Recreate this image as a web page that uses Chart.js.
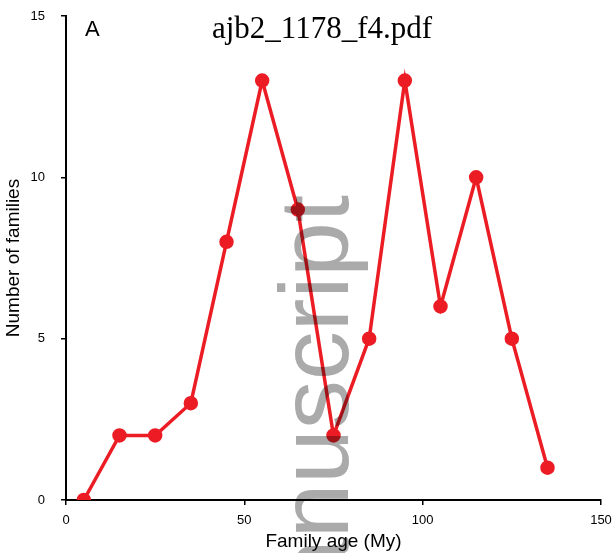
<!DOCTYPE html>
<html>
<head>
<meta charset="utf-8">
<script src="https://cdn.jsdelivr.net/npm/chart.js@4.4.0/dist/chart.umd.min.js"></script>
<style>
  html, body { margin: 0; padding: 0; background: #fff; }
  #wrap { width: 616px; height: 553px; position: relative; }
</style>
</head>
<body>
<div id="wrap"><canvas id="chartAges"></canvas></div>
<script>
// Family age distribution (panel A)
const familyAges = [5, 15, 25, 35, 45, 55, 65, 75, 85, 95, 105, 115, 125, 135];
const familyCounts = [0, 2, 2, 3, 8, 13, 9, 2, 5, 13, 6, 10, 5, 1];
const xTicks = [0, 50, 100, 150];
const yTicks = [0, 5, 10, 15];

// title, panel letter and the grey watermark on top
const overlay = {
    id: 'overlay',
    afterDraw(chart) {
        const ctx = chart.ctx;
        ctx.save();
        ctx.fillStyle = '#000';
        ctx.textBaseline = 'middle';
        ctx.font = '22px "Liberation Sans", Arial, sans-serif';
        ctx.textAlign = 'left';
        ctx.fillText('A', 85, 30);
        ctx.font = '31px "Liberation Serif", "DejaVu Serif", serif';
        ctx.textAlign = 'center';
        ctx.fillText('ajb2_1178_f4.pdf', 322, 30);

        ctx.globalCompositeOperation = 'multiply';
        ctx.fillStyle = '#aaaaaa';
        ctx.translate(348, 195);
        ctx.rotate(-Math.PI / 2);
        ctx.font = '98px "Liberation Sans", Arial, sans-serif';
        ctx.textAlign = 'right';
        ctx.textBaseline = 'alphabetic';
        ctx.fillText('Author Manuscript', 0, 0);
        ctx.restore();
    }
};

// keep the plot box fixed, whatever the labels need
function fixBox(s, size) {
    if (s.isHorizontal()) s.height = size; else s.width = size;
    s.paddingTop = 0;
    s.paddingBottom = 0;
    s.paddingLeft = 0;
    s.paddingRight = 0;
}

function initChart() {
    const ctx = document.getElementById('chartAges');
    new Chart(ctx, {
        type: 'line',
        data: {
            datasets: [{
                data: familyAges.map((a, i) => ({ x: a, y: familyCounts[i] })),
                borderColor: '#ec1c24',
                backgroundColor: '#ec1c24',
                borderWidth: 3.5,
                pointRadius: 5.5,
                pointHoverRadius: 5.5,
                tension: 0
            }]
        },
        options: {
            responsive: true,
            maintainAspectRatio: false,
            animation: false,
            layout: { padding: { top: 16, right: 15, left: 0, bottom: 0 } },
            plugins: {
                legend: { display: false },
                tooltip: { enabled: false }
            },
            scales: {
                x: {
                    type: 'linear',
                    min: 0,
                    max: 150,
                    afterBuildTicks: s => { s.ticks = xTicks.map(v => ({ value: v })); },
                    afterFit: s => fixBox(s, 53),
                    grid: { drawOnChartArea: false, drawTicks: true, tickLength: 5, color: '#000', lineWidth: 1.5 },
                    border: { color: '#000', width: 2 },
                    ticks: { color: '#000', font: { size: 13, family: 'Liberation Sans' }, padding: 8, maxRotation: 0 },
                    title: {
                        display: true,
                        text: 'Family age (My)',
                        color: '#000',
                        font: { size: 19, family: 'Liberation Sans' },
                        padding: { top: 0, bottom: 0 }
                    }
                },
                y: {
                    min: 0,
                    max: 15,
                    afterBuildTicks: s => { s.ticks = yTicks.map(v => ({ value: v })); },
                    afterFit: s => fixBox(s, 66),
                    grid: { drawOnChartArea: false, drawTicks: true, tickLength: 5, color: '#000', lineWidth: 1.5 },
                    border: { color: '#000', width: 2 },
                    ticks: { color: '#000', font: { size: 13, family: 'Liberation Sans' }, padding: 16 },
                    title: {
                        display: true,
                        text: 'Number of families',
                        color: '#000',
                        font: { size: 19, family: 'Liberation Sans' },
                        padding: { top: 2, bottom: 0 }
                    }
                }
            }
        },
        plugins: [overlay]
    });
}

document.addEventListener('DOMContentLoaded', function() {
    initChart();
});
</script>
</body>
</html>
